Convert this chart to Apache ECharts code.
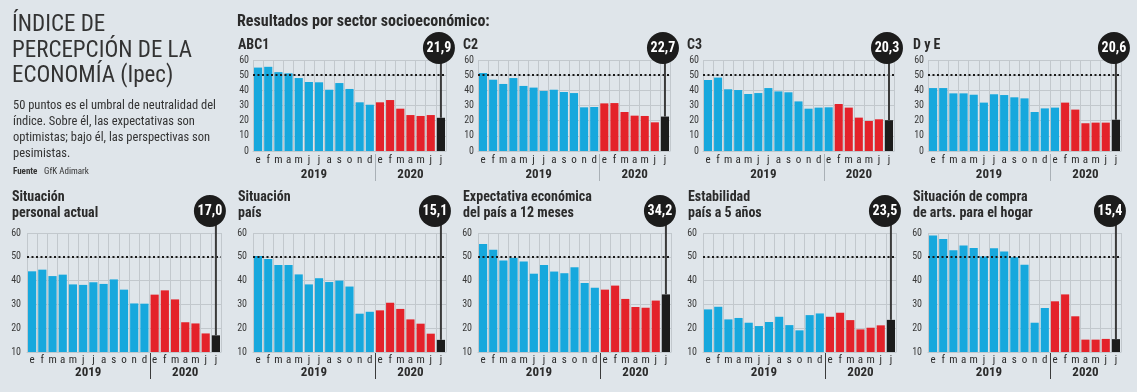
<!DOCTYPE html>
<html><head><meta charset="utf-8">
<script src="https://cdn.jsdelivr.net/npm/echarts@6/dist/echarts.min.js"></script>
<style>html,body{margin:0;padding:0;background:#dfe5ea}#c{width:1137px;height:392px}</style>
</head><body><div id="c"></div>
<script>
// ---- data ----
const months = ['e','f','m','a','m','j','j','a','s','o','n','d','e','f','m','a','m','j','j'];
const years = ['2019', '2020'];
const yearSplit = 12; // first index of 2020
const abc1 = [55, 55.5, 52, 51.2, 48.1, 45.5, 45.3, 40.4, 44.8, 40.9, 32.1, 30.5, 32.1, 33.6, 27.9, 23.7, 23.1, 23.7, 21.9];
const c2 = [51.4, 47, 44.2, 48.1, 42.9, 41.8, 39.6, 40.4, 38.9, 38.2, 28.8, 29, 31.4, 31.6, 25.7, 23.3, 23.1, 18.9, 22.7];
const c3 = [46.8, 48.4, 40.7, 40.2, 37.6, 38.2, 41.5, 39.3, 38.7, 32.7, 27.9, 28.6, 28.8, 31, 28.6, 22, 19.8, 20.9, 20.3];
const dye = [41.5, 41.5, 38, 38, 37.1, 31.9, 37.4, 36.9, 35.4, 34.7, 25.7, 28.1, 28.6, 31.9, 27.3, 18.3, 18.7, 18.7, 20.6];
const personal = [43.9, 44.6, 41.9, 42.5, 38.4, 38.2, 39.3, 38.6, 40.5, 36.2, 30.4, 30.3, 34.1, 35.9, 32.1, 22.5, 22, 17.8, 17.0];
const pais = [50.3, 49.1, 46.6, 46.6, 42.6, 38.4, 41, 39.4, 40, 37.5, 26.1, 26.9, 27.5, 30.7, 28.1, 23.7, 21.9, 17.7, 15.1];
const expectativa = [55.4, 53, 48.4, 49.5, 48, 42.9, 46.6, 43.8, 43.1, 45.6, 39, 37, 36.2, 37.9, 32.3, 28.9, 28.6, 31.6, 34.2];
const estabilidad = [27.9, 29, 23.7, 24.3, 22.3, 20.9, 22.6, 24.8, 21.3, 19.1, 25.5, 26.2, 24.8, 26.5, 23.4, 19.5, 20.2, 21.2, 23.5];
const compra = [59, 57.5, 52.7, 54.7, 53.7, 50.1, 53.6, 52.2, 49.8, 46.7, 22.3, 28.5, 31.3, 34.2, 25, 15.2, 15.2, 15.5, 15.4];
const threshold = 50;

// ---- layout ----
const NARROW = "'Liberation Sans Narrow','Arial Narrow','Roboto Condensed','DejaVu Sans Condensed',sans-serif";
const BLUE = '#17a8dd', RED = '#e4222a', BLACK = '#1c1c1c', GRID = '#c2c8cd', TXT = '#2b2b2b';
const TOP = {top: 60, height: 91, yMin: 0, bubbleDy: -12, bubbleDx: -2, labelMargin: 4, yLabMargin: 4, yearY: 175, divTop: 154, divBot: 181, divColor: '#a9b0b6'};
const BOT = {top: 233, height: 119, yMin: 10, bubbleDy: -22, bubbleDx: -6, labelMargin: 3, yLabMargin: 6, yearY: 373, divTop: 352, divBot: 379, divColor: '#3a3a3a'};
const panels = [
  {title: ['ABC1'], data: abc1, redStart: 12, left: 253, width: 193, row: TOP, tx: 238, ty: [46]},
  {title: ['C2'], data: c2, redStart: 12, left: 478, width: 192, row: TOP, tx: 463, ty: [46]},
  {title: ['C3'], data: c3, redStart: 13, left: 703, width: 191, row: TOP, tx: 687, ty: [46]},
  {title: ['D y E'], data: dye, redStart: 13, left: 928, width: 193, row: TOP, tx: 913, ty: [46]},
  {title: ['Situación', 'personal actual'], data: personal, redStart: 12, left: 27, width: 194, row: BOT, tx: 12, ty: [198, 214]},
  {title: ['Situación', 'país'], data: pais, redStart: 12, left: 253, width: 193, row: BOT, tx: 238, ty: [198, 214]},
  {title: ['Expectativa económica', 'del país a 12 meses'], data: expectativa, redStart: 12, left: 478, width: 193, row: BOT, tx: 463, ty: [198, 214]},
  {title: ['Estabilidad', 'país a 5 años'], data: estabilidad, redStart: 12, left: 703, width: 193, row: BOT, tx: 688, ty: [198, 214]},
  {title: ['Situación de compra', 'de arts. para el hogar'], data: compra, redStart: 12, left: 928, width: 193, row: BOT, tx: 913, ty: [198, 214]}
];

const grids = [], xAxes = [], yAxes = [], series = [], graphics = [];
const fmt = v => v.toFixed(1).replace('.', ',');

panels.forEach((P, k) => {
  const R = P.row;
  grids.push({left: P.left, top: R.top, width: P.width, height: R.height, containLabel: false});
  xAxes.push({
    type: 'category', gridIndex: k, data: months.map((m, i) => m + '_' + i),
    axisLine: {show: true, lineStyle: {color: GRID}}, axisTick: {show: false},
    splitLine: {show: true, interval: 0, lineStyle: {color: GRID, width: 1}},
    axisLabel: {interval: 0, margin: R.labelMargin, color: TXT, fontSize: 11, fontFamily: NARROW,
      formatter: (v, i) => months[i]}
  });
  yAxes.push({
    type: 'value', gridIndex: k, min: R.yMin, max: 60, interval: 10,
    axisLine: {show: false}, axisTick: {show: false},
    splitLine: {show: true, lineStyle: {color: GRID, width: 1}},
    axisLabel: {margin: R.yLabMargin, color: '#3a3a3a', fontSize: 10, fontFamily: NARROW}
  });
  const last = P.data.length - 1;
  series.push({
    type: 'bar', xAxisIndex: k, yAxisIndex: k, barCategoryGap: '20%',
    data: P.data.map((v, i) => ({value: v, itemStyle: {color: i === last ? BLACK : (i >= P.redStart ? RED : BLUE)}})),
    markLine: {silent: true, symbol: ['none', 'none'], label: {show: false},
      lineStyle: {color: '#1a1a1a', type: [2, 2.5], width: 2},
      data: [{yAxis: threshold}]},
    z: 2
  });
  series.push({
    type: 'custom', xAxisIndex: k, yAxisIndex: k, clip: false, z: 10,
    data: [[last, P.data[last]]],
    encode: {x: 0, y: 1},
    renderItem: function (params, api) {
      const p = api.coord([api.value(0), api.value(1)]);
      const cs = params.coordSys;
      const r = 16;
      const cy = cs.y + R.bubbleDy, cx = p[0] + R.bubbleDx;
      return {type: 'group', children: [
        {type: 'line', shape: {x1: p[0], y1: p[1], x2: p[0], y2: cy + r - 2}, style: {stroke: '#3a3a3a', lineWidth: 2}},
        {type: 'circle', shape: {cx: cx, cy: cy, r: r}, style: {fill: BLACK}},
        {type: 'text', x: cx, y: cy + 0.5, style: {text: fmt(api.value(1)), fill: '#fff', fontSize: 14, fontWeight: 'bold', fontFamily: NARROW, align: 'center', verticalAlign: 'middle'}}
      ]};
    }
  });
  // panel titles
  P.title.forEach((t, j) => graphics.push({type: 'text', left: P.tx, top: P.ty[j] - 8,
    style: {text: t, fill: TXT, fontSize: 14, fontWeight: 'bold', fontFamily: NARROW}}));
  // year labels and divider
  const cw = P.width / months.length;
  const centers = [P.left + cw * yearSplit / 2, P.left + cw * (yearSplit + months.length) / 2];
  years.forEach((y, j) => graphics.push({type: 'text', x: centers[j], y: R.yearY,
    style: {text: y, fill: TXT, fontSize: 13, fontWeight: 'bold', fontFamily: NARROW, align: 'center', verticalAlign: 'middle'}}));
  const dx = Math.round(P.left + cw * yearSplit) + 0.5;
  graphics.push({type: 'line', shape: {x1: dx, y1: R.divTop, x2: dx, y2: R.divBot}, style: {stroke: R.divColor, lineWidth: 1}});
});

// left column text
const headline = ['ÍNDICE DE', 'PERCEPCIÓN DE LA', 'ECONOMÍA (Ipec)'];
const para = ['50 puntos es el umbral de neutralidad del', 'índice. Sobre él, las expectativas son', 'optimistas; bajo él, las perspectivas son', 'pesimistas.'];
headline.forEach((t, i) => graphics.push({type: 'text', x: 12, y: 25 + i * 25.8,
  style: {text: t, fill: '#333', fontSize: 23, fontFamily: NARROW, verticalAlign: 'middle'}}));
para.forEach((t, i) => graphics.push({type: 'text', x: 13, y: 106 + i * 16,
  style: {text: t, fill: '#333', fontSize: 12.5, fontFamily: NARROW, verticalAlign: 'middle'}}));
graphics.push({type: 'text', x: 13, y: 172, style: {rich: {b: {fontWeight: 'bold', fontSize: 9, fontFamily: NARROW, fill: '#333'}, n: {fontSize: 9, fontFamily: NARROW, fill: '#333'}}, text: '{b|Fuente}  {n|GfK Adimark}', verticalAlign: 'middle'}});
graphics.push({type: 'text', x: 237, y: 22, style: {text: 'Resultados por sector socioeconómico:', fill: TXT, fontSize: 16, fontWeight: 'bold', fontFamily: NARROW, verticalAlign: 'middle'}});

const chart = echarts.init(document.getElementById('c'), null, {renderer: 'canvas'});
chart.setOption({
  backgroundColor: '#dfe5ea', animation: false,
  grid: grids, xAxis: xAxes, yAxis: yAxes, series: series, graphic: graphics
});
</script></body></html>
